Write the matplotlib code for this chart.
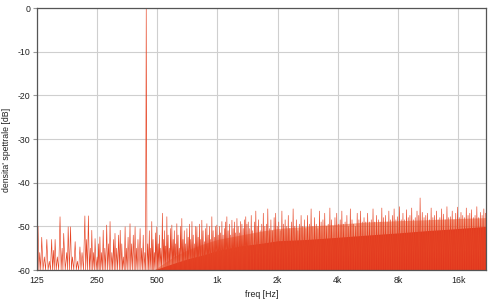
import numpy as np
import matplotlib
matplotlib.use("Agg")
import matplotlib.pyplot as plt

# ---------------- data ----------------
tick_freqs = [125, 250, 500, 1000, 2000, 4000, 8000, 16000]
tick_labels = ["125", "250", "500", "1k", "2k", "4k", "8k", "16k"]
y_ticks = [0, -10, -20, -30, -40, -50, -60]

peak_freq = [440.0]
peak_db = [0.0]

low_freq = [126.5, 129, 132, 136, 140, 144, 148, 151, 154, 158, 163, 167, 170, 176, 179,
            184, 188, 194, 199, 205, 210, 217, 221, 226, 231, 235, 240, 244, 250,
            254, 258, 263, 268, 273, 279, 285, 290, 296, 302, 307, 313, 320, 326, 332,
            338, 345, 350, 357, 365, 371, 379, 387, 393, 400, 410, 417, 425, 433,
            448, 456, 462, 469, 476, 483, 490, 497,
            505, 512, 520, 530, 537, 544, 551, 558, 566, 574, 582, 591, 600, 608, 617,
            626, 635, 644, 653, 663, 672, 682, 692, 703, 713, 724, 734, 745, 756, 767,
            778, 789, 800, 812, 823, 835, 847, 860, 872, 885, 898, 911, 924, 937, 951,
            965, 979, 993,
            1008, 1022, 1037, 1052, 1067, 1083, 1098, 1114, 1130, 1147, 1164, 1181,
            1198, 1215, 1233, 1251, 1269, 1288, 1306, 1325, 1345, 1365, 1385, 1404]
low_db = [-50, -56, -52.5, -57, -53, -58, -53, -55.5, -53, -57, -47.8, -55, -51.6, -56, -50.1,
          -50.1, -57, -53.5, -58, -54.7, -56, -47.6, -53, -47.6, -55, -50.9, -56, -52.8, -57,
          -54, -52.4, -56, -50.9, -55, -49.7, -54, -48.9, -56, -53, -51.6, -55, -52, -50.9, -54,
          -57, -50.1, -55, -52.5, -49.4, -54, -52, -50.1, -55, -53, -50.5, -55, -52, -56,
          -54, -51, -55, -48.9, -53, -56, -51.5, -50.1,
          -54, -52, -55, -47, -53, -51, -54.5, -47.8, -52, -55, -50.5, -49.7, -53, -51, -54,
          -49.4, -52, -55, -50, -48.2, -53, -51, -54, -50.5, -52.5, -49.5, -53, -48.9, -52, -54,
          -50, -50.1, -52.5, -49.5, -53, -48.6, -51, -53.5, -50.5, -49.4, -52, -50, -53, -47.8, -51,
          -52.5, -50, -49.7,
          -52, -50, -51.5, -48.9, -52, -50.5, -49, -47.8, -51, -49.5, -52, -48.6,
          -50.5, -49, -51.5, -48.2, -50, -51.5, -48.9, -49.5, -50.5, -48.5, -47.8, -49.5]

# spikes above the dense floor, (frequency Hz, level dB)
high_pts = [
    (1425, -49), (1450, -50.5), (1475, -47.5), (1500, -51), (1530, -49), (1555, -46.5),
    (1580, -50), (1605, -48.5), (1635, -51), (1665, -49.5), (1695, -47), (1725, -50),
    (1755, -49.5), (1785, -46), (1820, -50.5), (1850, -48.5), (1885, -51), (1920, -48),
    (1955, -47), (1990, -50), (2025, -49), (2060, -51), (2100, -46.5), (2140, -49.5),
    (2180, -48.5), (2220, -50), (2260, -47.5), (2300, -50.5), (2345, -49), (2390, -46),
    (2435, -50), (2480, -48.5), (2525, -51), (2570, -49.5), (2620, -47.5), (2670, -50),
    (2720, -48.5), (2770, -50.5), (2820, -47.5), (2880, -49.5), (2940, -46), (3000, -50),
    (3060, -48), (3120, -49.5), (3180, -50.5), (3240, -46.5), (3300, -49), (3370, -48.5),
    (3440, -47), (3510, -50), (3580, -49.5), (3650, -45.8), (3720, -48.5), (3790, -50),
    (3870, -48), (3950, -47), (4030, -49.5), (4110, -48.5), (4190, -46.5), (4270, -49.5),
    (4350, -49), (4440, -47.5), (4530, -50), (4620, -46), (4710, -48.5), (4800, -49.5),
    (4900, -50), (5000, -47), (5100, -48.5), (5200, -46.5), (5300, -49), (5410, -48),
    (5520, -49), (5640, -47), (5760, -49), (5880, -48.5), (6000, -46), (6120, -49),
    (6250, -47.5), (6380, -48.5), (6510, -49), (6640, -45.8), (6780, -48), (6920, -47.5),
    (7060, -49), (7200, -46.5), (7350, -48.5), (7500, -47.5), (7650, -46), (7810, -48.5),
    (7970, -47.8), (8130, -45.5), (8300, -48.5), (8470, -47), (8640, -48.5), (8820, -46.2),
    (9000, -48), (9180, -47.5), (9370, -45.8), (9560, -48.5), (9760, -48), (9960, -46.5),
    (10160, -47.5), (10320, -43.5), (10580, -46.8), (10800, -48), (11020, -47.5),
    (11250, -47), (11480, -48.5), (11720, -45.8), (11960, -48), (12200, -47.5),
    (12450, -46.5), (12700, -48.5), (12960, -48), (13230, -46), (13500, -47.2),
    (13780, -48.5), (14060, -45.5), (14350, -48), (14640, -47.8), (14940, -46.5),
    (15250, -48.5), (15560, -47), (15880, -45.6), (16200, -48), (16530, -46.8),
    (16870, -47.5), (17220, -48), (17570, -45.8), (17930, -47.5), (18300, -47),
    (18670, -46.2), (19050, -48), (19440, -47.5), (19840, -45.5), (20250, -48),
    (20660, -46.8), (21080, -47.5), (21510, -46), (21950, -47),
]
high_freq = [p[0] for p in high_pts]
high_db = [p[1] for p in high_pts]

# solid (dense) part of the noise floor and the hazy band above it
band_freq = [480, 600, 700, 850, 1000, 1300, 1700, 2000, 2800, 4000, 5600, 8000, 11000, 16000, 22050]
solid_db = [-60, -58.5, -57.5, -56.5, -55.5, -54.5, -53.8, -53.3, -53, -52.5, -52, -51.5, -51, -50.5, -50]
haze_db = [-60, -57, -55.5, -54, -53, -52, -51, -50.5, -50, -49.5, -49, -48.7, -48.5, -48.2, -48]

trough_db = -60.0

# ---------------- build spectrum line (peaks joined through troughs) ----------------
pk_f = np.array(low_freq + peak_freq + high_freq, dtype=float)
pk_d = np.array(low_db + peak_db + high_db, dtype=float)
order = np.argsort(pk_f)
pk_f, pk_d = pk_f[order], pk_d[order]
tr_f = np.sqrt(pk_f[:-1] * pk_f[1:])
line_f = np.empty(len(pk_f) + len(tr_f))
line_d = np.empty_like(line_f)
line_f[0::2] = pk_f
line_d[0::2] = pk_d
line_f[1::2] = tr_f
line_d[1::2] = trough_db

# ---------------- plot ----------------
RED = "#e2371e"
fig = plt.figure(figsize=(5, 3), dpi=100)
ax = fig.add_axes([0.074, 0.1, 0.898, 0.873])

ax.fill_between(band_freq, -60, haze_db, color="#ec6a3c", alpha=0.55, lw=0, zorder=2)
ax.fill_between(band_freq, -60, solid_db, color=RED, lw=0, zorder=3)
ax.plot(line_f, line_d, color="#e64424", lw=0.45, zorder=4)

ax.set_xscale("log", base=2)
ax.set_xlim(125, 22050)
ax.set_ylim(-60, 0)
ax.set_xticks(tick_freqs)
ax.set_xticklabels(tick_labels)
ax.minorticks_off()
ax.set_yticks(y_ticks)
ax.set_yticklabels([str(v) for v in y_ticks])

ax.grid(True, color="#cfcfcf", lw=0.8, zorder=0)
ax.set_axisbelow(True)
for s in ax.spines.values():
    s.set_color("#555555")
    s.set_linewidth(0.9)
    s.set_zorder(5)

ax.tick_params(axis="y", length=3, width=0.8, color="#999999", pad=2, labelsize=6.3)
ax.tick_params(axis="x", length=0, pad=4, labelsize=6.3)
for lab in ax.get_xticklabels() + ax.get_yticklabels():
    lab.set_fontfamily(["Liberation Sans", "DejaVu Sans"])
    lab.set_color("#222222")

font = dict(family=["Liberation Sans", "DejaVu Sans"], size=6.3, color="#222222")
ax.set_xlabel("freq [Hz]", fontdict=font)
ax.set_ylabel("densita' spettrale [dB]", fontdict=font)
ax.xaxis.set_label_coords(0.501, -0.078)
ax.yaxis.set_label_coords(-0.058, 0.458)

fig.savefig("out.png", dpi=100)
